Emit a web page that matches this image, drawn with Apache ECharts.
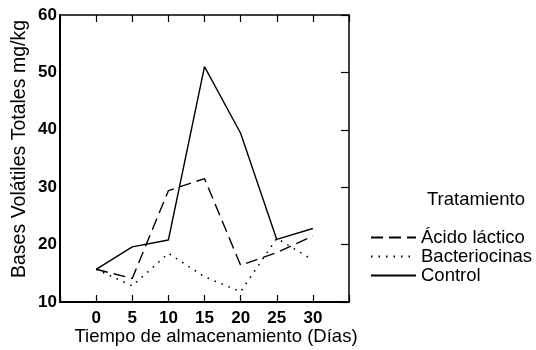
<!DOCTYPE html>
<html><head><meta charset="utf-8">
<script src="https://cdn.jsdelivr.net/npm/echarts@6/dist/echarts.min.js"></script>
<style>html,body{margin:0;padding:0;background:#fff}#c{width:536px;height:350px}</style>
</head><body><div id="c"></div>
<script>
var days = [0, 5, 10, 15, 20, 25, 30];
var acidoLactico = [15.7, 14.1, 29.4, 31.5, 16.4, 18.6, 21.5];
var bacteriocinas = [15.7, 12.8, 18.5, 14.4, 11.8, 21.1, 17.3];
var control = [15.7, 19.6, 20.8, 51.0, 39.4, 20.9, 22.8];
var seriesNames = ['Ácido láctico', 'Bacteriocinas', 'Control'];
var yTicks = [10, 20, 30, 40, 50, 60];
var xAxisName = 'Tiempo de almacenamiento (Días)';
var yAxisName = 'Bases Volátiles Totales mg/kg';
var legendTitle = 'Tratamiento';

function pairs(v){ return days.map(function(d,i){ return [d, v[i]]; }); }
var FONT = 'Liberation Sans, Arial, sans-serif';
var chart = echarts.init(document.getElementById('c'), null, {renderer:'canvas'});
var axisLine = {show:true, onZero:false, lineStyle:{color:'#000', width:2}};
var thinLine = {show:true, onZero:false, lineStyle:{color:'#000', width:1.5}};
chart.setOption({
  animation:false,
  backgroundColor:'#fff',
  textStyle:{fontFamily:FONT},
  grid:{left:60, right:187, top:15, bottom:48},
  xAxis:[{
    type:'value', min:-5, max:35, interval:5, position:'bottom',
    axisLine:axisLine, splitLine:{show:false},
    axisTick:{show:true, inside:true, length:7, lineStyle:{color:'#000', width:1.2}},
    axisLabel:{color:'#000', fontSize:17, fontWeight:'bold', fontFamily:FONT, margin:8,
      formatter:function(v){ return days.indexOf(v) >= 0 ? String(v) : ''; }}
  },{
    type:'value', min:-5, max:35, interval:5, position:'top',
    axisLine:thinLine, splitLine:{show:false},
    axisTick:{show:true, inside:true, length:7, lineStyle:{color:'#000', width:1.2}},
    axisLabel:{show:false}
  }],
  yAxis:[{
    type:'value', min:yTicks[0], max:yTicks[yTicks.length-1], interval:10, position:'left',
    axisLine:axisLine, splitLine:{show:false}, axisTick:{show:false},
    axisLabel:{color:'#000', fontSize:17, fontWeight:'bold', fontFamily:FONT, margin:3}
  },{
    type:'value', min:yTicks[0], max:yTicks[yTicks.length-1], interval:10, position:'right',
    axisLine:thinLine, splitLine:{show:false},
    axisTick:{show:true, inside:true, length:8, lineStyle:{color:'#000', width:1.2}},
    axisLabel:{show:false}
  }],
  legend:{
    orient:'vertical', left:370, top:228, padding:0, itemWidth:45, itemHeight:14, itemGap:0,
    itemStyle:{color:'rgba(0,0,0,0)', borderColor:'rgba(0,0,0,0)', borderWidth:0},
    textStyle:{color:'#000', fontSize:18.5, fontFamily:FONT, lineHeight:19},
    data:seriesNames
  },
  graphic:[
    {type:'text', x:476, y:200, style:{text:legendTitle, fill:'#000', font:'18.5px '+FONT, align:'center', verticalAlign:'middle'}},
    {type:'text', x:216, y:337, style:{text:xAxisName, fill:'#000', font:'18.5px '+FONT, align:'center', verticalAlign:'middle'}},
    {type:'text', x:20, y:149, rotation:Math.PI/2, style:{text:yAxisName, fill:'#000', font:'19.5px '+FONT, align:'center', verticalAlign:'middle'}}
  ],
  series:[
    {name:seriesNames[0], type:'line', data:pairs(acidoLactico), symbol:'none', showSymbol:false,
     lineStyle:{color:'#000', width:1.4, type:[12,6]}, itemStyle:{color:'#000'}},
    {name:seriesNames[1], type:'line', data:pairs(bacteriocinas), symbol:'none', showSymbol:false,
     lineStyle:{color:'#000', width:1.6, type:[1.5,6]}, itemStyle:{color:'#000'}},
    {name:seriesNames[2], type:'line', data:pairs(control), symbol:'none', showSymbol:false,
     lineStyle:{color:'#000', width:1.4, type:'solid'}, itemStyle:{color:'#000'}}
  ]
});
</script></body></html>
